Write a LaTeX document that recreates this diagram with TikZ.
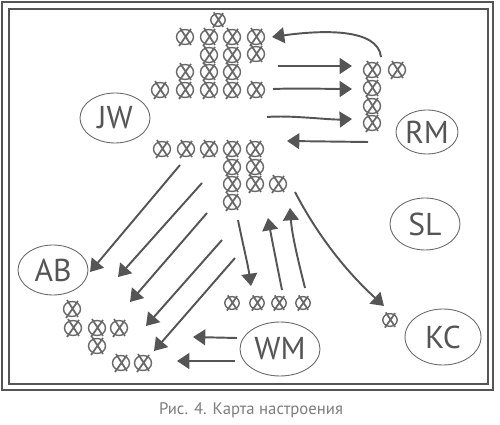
\documentclass[tikz,border=0pt]{standalone}
\usepackage{fontspec}
\setmainfont{PT Sans}
\usetikzlibrary{shapes.geometric, arrows.meta}

\definecolor{inkgray}{RGB}{85,85,85}
\definecolor{markgray}{RGB}{105,105,105}
\definecolor{captgray}{RGB}{125,125,125}

\tikzset{
  xmark/.pic={
    \draw[markgray, line width=0.8pt] (0,0) ellipse[x radius=8.5, y radius=7.5];
    \draw[markgray, line width=1pt] (-5,-9) -- (6,8) (6,-8) -- (-6,9);
  },
  blob/.style 2 args={ellipse, draw=markgray, line width=0.5pt, inner sep=0pt,
    minimum width=#1*0.4mm, minimum height=#2*0.4mm, text=inkgray,
    font=\fontsize{18}{18}\selectfont},
  arr/.style={->, inkgray, line width=1.1pt}
}

\begin{document}
\begin{tikzpicture}[x=0.02cm, y=-0.02cm, >={Triangle[length=7pt,width=9pt]}]
  \useasboundingbox (0,0) rectangle (500,425);

  % frame
  \draw[inkgray, line width=0.6pt] (2,2) rectangle (493,390);
  \draw[inkgray, line width=1.2pt] (9,9) rectangle (488,384);

  % people
  \node[blob={35}{25}] (jw) at (115,118) {JW};
  \node[blob={31}{22}] (rm) at (427,132) {RM};
  \node[blob={35}{25}] (ab) at (53,270) {AB};
  \node[blob={35}{26}] (sl) at (425,224) {SL};
  \node[blob={38}{28}] (kc) at (443,337) {KC};
  \node[blob={40}{27}] (wm) at (280,349) {WM};

  % marks
  \foreach \x/\y in {185/37, 209/37, 232/37, 256/37, 209/55, 232/55, 256/54,
      185/72, 209/72, 232/72, 160/90, 185/90, 209/90, 232/90, 256/90,
      162/149, 186/149, 209/149, 232/149, 255/149, 232/167, 255/167,
      232/184, 255/184, 278/184, 232/202,
      372/70, 397/70, 372/88, 372/106, 372/123,
      72/309, 73/328, 97/328, 119/328, 97/346, 121/363, 143/363}
    \pic at (\x,\y) {xmark};
  \foreach \x/\y in {218/20, 232/303, 257/303, 279/303, 303/303, 390/320}
    \pic[scale=0.85] at (\x,\y) {xmark};

  % top arrows
  \draw[arr] (381,57) .. controls (378,28) and (322,30) .. (272,37);
  \draw[arr] (278,66) -- (352,66);
  \draw[arr] (273,89) .. controls (300,88) and (330,89) .. (352,89);
  \draw[arr] (267,117) .. controls (290,115) and (330,120) .. (352,119);
  \draw[arr] (368,142) -- (287,141);

  % down to the left
  \draw[arr] (180,165) -- (90,272);
  \draw[arr] (202,183) -- (118,277);
  \draw[arr] (207,213) -- (130,302);
  \draw[arr] (222,240) -- (146,326);
  \draw[arr] (235,258) -- (154,351);

  % middle
  \draw[arr] (238,220) .. controls (243,245) and (248,265) .. (251,286);
  \draw[arr] (282,290) .. controls (277,265) and (272,240) .. (268,218);
  \draw[arr] (305,288) .. controls (298,260) and (292,235) .. (290,208);
  \draw[arr] (295,192) .. controls (320,240) and (350,275) .. (384,306);

  % from WM
  \draw[arr] (237,338) -- (193,337);
  \draw[arr] (235,361) -- (177,361);

  \node[font=\fontsize{9.5}{11}\selectfont, text=captgray] (cap) at (251,410) {Рис. 4. Карта настроения};
\end{tikzpicture}
\end{document}
